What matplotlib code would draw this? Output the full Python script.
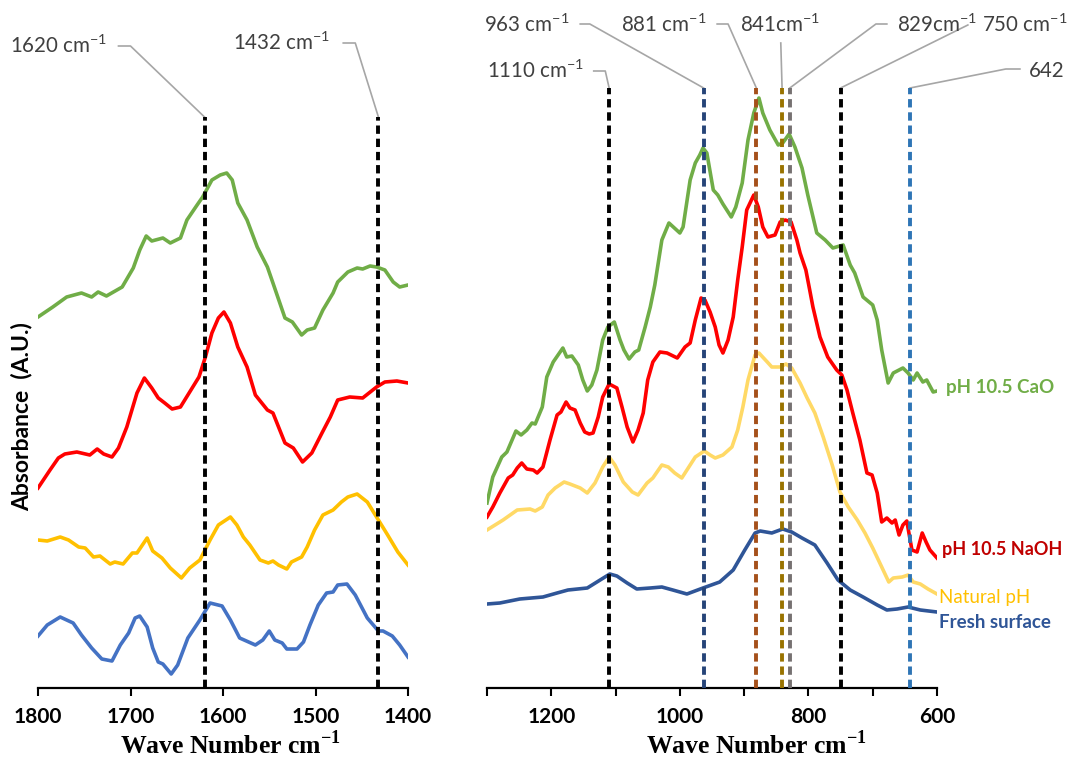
import matplotlib
matplotlib.use("Agg")
import matplotlib.pyplot as plt
from matplotlib.ticker import MultipleLocator

plt.rcParams['font.family'] = ['Lato', 'DejaVu Sans']
plt.rcParams['mathtext.fontset'] = 'custom'
plt.rcParams['mathtext.rm'] = 'Lato'
plt.rcParams['mathtext.bf'] = 'Liberation Serif:bold'
plt.rcParams['lines.scale_dashes'] = False

# ---- 1800-1400 cm-1 region (absorbance, arbitrary units, stacked) ----
hi_wn_cao = [1800, 1784, 1769, 1753, 1742, 1735, 1726, 1709, 1697, 1690, 1683, 1677, 1665, 1657,
             1646, 1639, 1628, 1622, 1612, 1603, 1596, 1590, 1584, 1574, 1563, 1552, 1546, 1533,
             1525, 1515, 1509, 1501, 1492, 1481, 1476, 1465, 1455, 1449, 1441, 1434, 1425, 1416,
             1409, 1400]
hi_cao = [3.71, 3.81, 3.91, 3.95, 3.91, 3.96, 3.92, 4.01, 4.20, 4.38, 4.52, 4.47, 4.50, 4.45,
          4.50, 4.68, 4.83, 4.91, 5.08, 5.13, 5.15, 5.08, 4.85, 4.68, 4.41, 4.21, 4.05, 3.70,
          3.66, 3.53, 3.58, 3.60, 3.78, 3.95, 4.06, 4.16, 4.20, 4.19, 4.22, 4.21, 4.18, 4.06,
          4.01, 4.03]

hi_wn_naoh = [1800, 1787, 1778, 1771, 1758, 1744, 1736, 1729, 1720, 1713, 1704, 1693, 1685, 1677,
              1670, 1663, 1655, 1646, 1636, 1626, 1619, 1612, 1605, 1599, 1592, 1584, 1574, 1565,
              1552, 1546, 1533, 1524, 1514, 1504, 1493, 1484, 1476, 1463, 1449, 1434, 1425, 1412,
              1400]
hi_naoh = [2.00, 2.18, 2.30, 2.34, 2.36, 2.33, 2.39, 2.34, 2.31, 2.40, 2.61, 2.95, 3.10, 3.00,
           2.90, 2.85, 2.79, 2.81, 2.96, 3.11, 3.31, 3.55, 3.70, 3.76, 3.65, 3.41, 3.21, 2.93,
           2.78, 2.75, 2.45, 2.40, 2.26, 2.35, 2.55, 2.71, 2.88, 2.91, 2.90, 3.01, 3.06, 3.07,
           3.05]

hi_wn_nat = [1800, 1790, 1776, 1767, 1756, 1749, 1740, 1733, 1722, 1717, 1708, 1698, 1693, 1682,
             1676, 1666, 1657, 1645, 1636, 1625, 1614, 1605, 1592, 1585, 1578, 1571, 1560, 1551,
             1546, 1540, 1531, 1526, 1515, 1509, 1501, 1492, 1481, 1472, 1465, 1455, 1444, 1434,
             1422, 1411, 1400]
hi_nat = [1.48, 1.47, 1.51, 1.48, 1.41, 1.40, 1.31, 1.32, 1.24, 1.26, 1.24, 1.35, 1.35, 1.50,
          1.37, 1.30, 1.20, 1.10, 1.20, 1.28, 1.48, 1.63, 1.71, 1.63, 1.51, 1.43, 1.28, 1.25,
          1.27, 1.23, 1.19, 1.26, 1.31, 1.41, 1.58, 1.73, 1.78, 1.86, 1.91, 1.94, 1.86, 1.71,
          1.53, 1.36, 1.23]

hi_wn_fresh = [1800, 1790, 1776, 1762, 1753, 1742, 1731, 1720, 1711, 1702, 1695, 1690, 1682, 1676,
               1670, 1665, 1656, 1649, 1638, 1625, 1614, 1601, 1592, 1582, 1565, 1557, 1550, 1544,
               1536, 1531, 1520, 1513, 1506, 1497, 1488, 1481, 1476, 1466, 1457, 1444, 1432, 1427,
               1417, 1409, 1400]
hi_fresh = [0.52, 0.63, 0.71, 0.65, 0.53, 0.40, 0.29, 0.27, 0.43, 0.55, 0.70, 0.72, 0.61, 0.40,
            0.26, 0.24, 0.14, 0.23, 0.50, 0.68, 0.85, 0.82, 0.68, 0.50, 0.43, 0.48, 0.57, 0.48,
            0.45, 0.39, 0.39, 0.46, 0.63, 0.83, 0.95, 0.96, 1.03, 1.04, 0.93, 0.70, 0.57, 0.57,
            0.52, 0.43, 0.31]

# ---- 1300-600 cm-1 region ----
lo_wn_cao = [1300, 1291, 1277, 1269, 1255, 1247, 1238, 1230, 1225, 1214, 1207, 1197, 1182, 1176,
             1168, 1158, 1151, 1144, 1137, 1129, 1120, 1112, 1102, 1093, 1087, 1079, 1070, 1064,
             1054, 1046, 1039, 1028, 1017, 1000, 995, 984, 976, 969, 964, 958, 948, 941, 933,
             920, 913, 903, 894, 885, 877, 871, 860, 847, 840, 830, 821, 810, 801, 787, 774, 762,
             746, 735, 728, 715, 700, 693, 686, 676, 668, 653, 645, 637, 631, 622, 616, 606, 600]
lo_cao = [1.85, 2.11, 2.31, 2.36, 2.57, 2.53, 2.58, 2.65, 2.64, 2.81, 3.11, 3.26, 3.40, 3.31,
          3.32, 3.23, 3.08, 2.97, 3.03, 3.18, 3.48, 3.61, 3.66, 3.48, 3.38, 3.29, 3.36, 3.38,
          3.61, 3.81, 4.03, 4.48, 4.65, 4.55, 4.61, 5.08, 5.25, 5.33, 5.40, 5.35, 4.98, 4.93, 4.84,
          4.71, 4.81, 5.05, 5.48, 5.75, 5.90, 5.75, 5.58, 5.43, 5.45, 5.54, 5.41, 5.20, 4.93, 4.55,
          4.48, 4.40, 4.43, 4.23, 4.15, 3.91, 3.83, 3.68, 3.38, 3.05, 3.15, 3.20, 3.15, 3.08,
          3.15, 3.06, 3.08, 2.96, 2.97]

lo_wn_naoh = [1300, 1291, 1280, 1267, 1260, 1253, 1246, 1238, 1228, 1222, 1213, 1202, 1191, 1185,
              1177, 1171, 1163, 1155, 1148, 1141, 1135, 1127, 1120, 1110, 1104, 1098, 1090, 1082,
              1073, 1065, 1057, 1050, 1042, 1031, 1020, 1004, 992, 984, 976, 967, 961, 953, 945,
              939, 933, 925, 917, 910, 903, 896, 885, 878, 871, 863, 852, 844, 836, 827, 818, 813,
              804, 798, 793, 782, 770, 756, 748, 740, 731, 720, 709, 701, 693, 686, 678, 670, 665,
              659, 653, 647, 639, 631, 623, 617, 611, 600]
lo_naoh = [1.71, 1.81, 1.95, 2.10, 2.13, 2.20, 2.25, 2.19, 2.18, 2.15, 2.21, 2.48, 2.73, 2.76,
           2.86, 2.80, 2.78, 2.65, 2.56, 2.54, 2.55, 2.71, 2.91, 3.04, 3.02, 3.00, 2.81, 2.61,
           2.46, 2.58, 2.75, 3.08, 3.26, 3.36, 3.35, 3.30, 3.41, 3.45, 3.68, 3.90, 3.88, 3.76, 3.61,
           3.43, 3.35, 3.48, 3.71, 4.08, 4.41, 4.78, 4.93, 4.81, 4.61, 4.51, 4.53, 4.66, 4.68, 4.66,
           4.48, 4.35, 4.18, 3.98, 3.81, 3.51, 3.31, 3.18, 3.13, 2.98, 2.75, 2.48, 2.15, 2.13,
           1.95, 1.66, 1.70, 1.65, 1.68, 1.53, 1.63, 1.67, 1.38, 1.36, 1.55, 1.46, 1.38, 1.30]

lo_wn_nat = [1300, 1275, 1253, 1233, 1225, 1214, 1205, 1194, 1180, 1171, 1155, 1144, 1132, 1120,
             1110, 1101, 1088, 1074, 1065, 1051, 1042, 1028, 1018, 1008, 997, 987, 976, 962, 953,
             945, 933, 919, 910, 902, 894, 883, 877, 864, 857, 844, 835, 826, 813, 802, 790, 777,
             763, 751, 738, 724, 712, 700, 686, 675, 668, 654, 645, 637, 626, 614, 600]
lo_nat = [1.58, 1.68, 1.78, 1.79, 1.77, 1.81, 1.93, 2.00, 2.06, 2.04, 2.00, 1.95, 2.05, 2.21,
          2.31, 2.23, 2.06, 1.96, 1.93, 2.05, 2.10, 2.23, 2.21, 2.15, 2.10, 2.20, 2.31, 2.37, 2.33,
          2.30, 2.33, 2.41, 2.58, 2.81, 3.08, 3.33, 3.35, 3.26, 3.21, 3.21, 3.24, 3.20, 3.05, 2.90,
          2.75, 2.51, 2.23, 1.96, 1.81, 1.68, 1.55, 1.40, 1.21, 1.06, 1.10, 1.11, 1.13, 1.06, 1.04,
          0.99, 0.94]

lo_wn_fresh = [1300, 1280, 1249, 1213, 1191, 1174, 1144, 1124, 1109, 1098, 1082, 1067, 1046, 1028,
               1011, 989, 964, 938, 917, 899, 883, 875, 857, 840, 826, 810, 790, 771, 754, 735,
               715, 693, 678, 662, 645, 626, 600]
lo_fresh = [0.84, 0.85, 0.89, 0.91, 0.95, 0.98, 1.00, 1.08, 1.14, 1.12, 1.05, 0.99, 1.00, 1.01,
            0.98, 0.94, 1.00, 1.06, 1.18, 1.38, 1.55, 1.57, 1.55, 1.59, 1.56, 1.50, 1.43, 1.25,
            1.08, 0.98, 0.91, 0.83, 0.78, 0.79, 0.81, 0.78, 0.76]

series_names = ['pH 10.5 CaO', 'pH 10.5 NaOH', 'Natural pH', 'Fresh surface']

hi_peaks = [1620, 1432]
lo_peaks = [1110, 963, 881, 841, 829, 750, 642]
lo_peak_labels = ['1110 cm$^{-1}$', '963 cm$^{-1}$', '881 cm$^{-1}$', '841cm$^{-1}$',
                  '829cm$^{-1}$', '750 cm$^{-1}$', '642']
lo_peak_colors = ['black', '#264478', '#A5501A', '#997300', '#767171', 'black', '#2E75B6']

W, H = 1068, 760
fig = plt.figure(figsize=(W / 100, H / 100), dpi=100)
ax1 = fig.add_axes([38 / W, 72 / H, 370 / W, 600 / H])
ax2 = fig.add_axes([487 / W, 72 / H, 450 / W, 600 / H])

lw = 2.6
ax1.plot(hi_wn_cao, hi_cao, color='#70AD47', lw=lw)
ax1.plot(hi_wn_naoh, hi_naoh, color='#FF0000', lw=lw)
ax1.plot(hi_wn_nat, hi_nat, color='#FFC000', lw=lw)
ax1.plot(hi_wn_fresh, hi_fresh, color='#4472C4', lw=lw)

ax2.plot(lo_wn_cao, lo_cao, color='#70AD47', lw=lw)
ax2.plot(lo_wn_naoh, lo_naoh, color='#FF0000', lw=lw)
ax2.plot(lo_wn_nat, lo_nat, color='#FFD966', lw=lw)
ax2.plot(lo_wn_fresh, lo_fresh, color='#2F5597', lw=lw)

dash = (0, (6, 3.5))
for p in hi_peaks:
    ax1.plot([p, p], [0, 5.71], color='black', lw=2.8, linestyle=dash, zorder=5)
for p, c in zip(lo_peaks, lo_peak_colors):
    ax2.plot([p, p], [0, 6.0], color=c, lw=2.8, linestyle=dash, zorder=5)

for ax, lims in ((ax1, (1800, 1400)), (ax2, (1300, 600))):
    ax.set_xlim(*lims)
    ax.set_ylim(0, 6.0)
    for s in ('left', 'right', 'top'):
        ax.spines[s].set_visible(False)
    ax.spines['bottom'].set_linewidth(1.6)
    ax.set_yticks([])
    ax.tick_params(axis='x', which='both', direction='out', length=6, width=1.5,
                   labelsize=15, pad=8)

ax1.xaxis.set_major_locator(MultipleLocator(100))
ax2.xaxis.set_major_locator(MultipleLocator(200))
ax2.xaxis.set_minor_locator(MultipleLocator(100))
for ax in (ax1, ax2):
    for t in ax.get_xticklabels():
        t.set_fontweight('bold')

# peak call-outs with grey leader lines
lead = dict(color='#A6A6A6', lw=1.2, clip_on=False)
txt = dict(fontsize=14.8, color='#404040', va='center', clip_on=False)
ax1.plot([1713, 1700, 1620], [6.42, 6.42, 5.71], **lead)
ax1.text(1725, 6.42, '1620 cm$^{-1}$', ha='right', **txt)
ax1.plot([1470, 1457, 1432], [6.45, 6.45, 5.71], **lead)
ax1.text(1484, 6.45, '1432 cm$^{-1}$', ha='right', **txt)

callouts = [
    (1149, 6.17, 'right', [1134, 1116, 1110], [6.17, 6.17, 6.0]),
    (1172, 6.63, 'right', [1155, 1140, 963], [6.64, 6.64, 6.0]),
    (958, 6.63, 'right', [942, 925, 881], [6.64, 6.64, 6.0]),
    (844, 6.63, 'center', [843, 841], [6.45, 6.0]),
    (662, 6.63, 'left', [678, 695, 829], [6.64, 6.64, 6.0]),
    (530, 6.63, 'left', [552, 750], [6.63, 6.0]),
    (457, 6.17, 'left', [471, 493, 642], [6.19, 6.19, 6.0]),
]
for (tx, ty, ha, lx, ly), lab in zip(callouts, lo_peak_labels):
    ax2.plot(lx, ly, **lead)
    ax2.text(tx, ty, lab, ha=ha, **txt)

# series names at the right end of the curves
ax2.text(586, 3.01, series_names[0], color='#70AD47', fontsize=13.5, fontweight='bold',
         va='center', clip_on=False)
ax2.text(592, 1.38, series_names[1], color='#C00000', fontsize=13, fontweight='bold',
         va='center', clip_on=False)
ax2.text(597, 0.90, series_names[2], color='#FFC000', fontsize=13.5,
         va='center', clip_on=False)
ax2.text(597, 0.66, series_names[3], color='#2F5597', fontsize=13.5, fontweight='bold',
         va='center', clip_on=False)

xlab = dict(family='Liberation Serif', fontweight='bold', fontsize=18.5, ha='center', va='center')
fig.text(230 / W, 1 - 745 / H, r'Wave Number cm$^{\mathbf{-1}}$', **xlab)
fig.text(756 / W, 1 - 745 / H, r'Wave Number cm$^{\mathbf{-1}}$', **xlab)
fig.text(22 / W, 1 - 417 / H, 'Absorbance  (A.U.)', rotation=90, fontsize=16.5,
         fontweight='bold', ha='center', va='center')

fig.savefig('out.png', dpi=100)
